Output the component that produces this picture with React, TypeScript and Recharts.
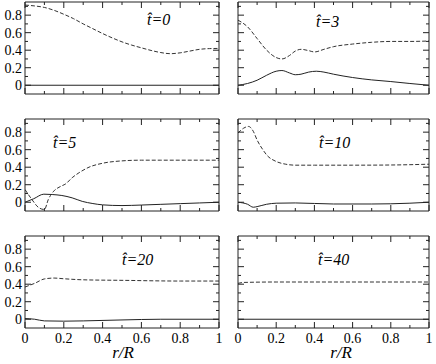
import { LineChart, Line, XAxis, YAxis } from "recharts";

// tick values shared by every panel
const xTicks = [0, 0.1, 0.2, 0.3, 0.4, 0.5, 0.6, 0.7, 0.8, 0.9, 1];
const yTicks = [0, 0.1, 0.2, 0.3, 0.4, 0.5, 0.6, 0.7, 0.8, 0.9];

// t = 0
const t0DashR = [0, 0.05, 0.1, 0.15, 0.2, 0.25, 0.3, 0.35, 0.4, 0.45, 0.5, 0.55, 0.6, 0.65, 0.7, 0.75, 0.8, 0.85, 0.9, 0.95, 1];
const t0Dash = [0.915, 0.905, 0.888, 0.855, 0.81, 0.76, 0.7, 0.645, 0.59, 0.54, 0.495, 0.458, 0.427, 0.397, 0.373, 0.36, 0.37, 0.39, 0.41, 0.418, 0.42];
const t0SolidR = [0, 1];
const t0Solid = [0, 0];

// t = 3
const t3DashR = [0, 0.05, 0.1, 0.15, 0.2, 0.23, 0.27, 0.3, 0.33, 0.37, 0.4, 0.45, 0.5, 0.6, 0.7, 0.8, 0.9, 1];
const t3Dash = [0.743, 0.667, 0.533, 0.4, 0.316, 0.3, 0.34, 0.39, 0.41, 0.395, 0.38, 0.41, 0.44, 0.47, 0.49, 0.5, 0.5, 0.505];
const t3SolidR = [0, 0.05, 0.1, 0.15, 0.2, 0.23, 0.27, 0.3, 0.33, 0.37, 0.41, 0.45, 0.5, 0.6, 0.7, 0.8, 0.9, 1];
const t3Solid = [0, 0.02, 0.057, 0.114, 0.16, 0.168, 0.14, 0.12, 0.126, 0.15, 0.16, 0.15, 0.126, 0.088, 0.061, 0.042, 0.02, 0];

// t = 5
const t5DashR = [0, 0.036, 0.07, 0.1, 0.12, 0.148, 0.183, 0.21, 0.243, 0.278, 0.33, 0.4, 0.5, 0.6, 0.7, 0.8, 0.9, 1];
const t5Dash = [0.145, 0.03, -0.06, -0.083, 0.03, 0.126, 0.18, 0.21, 0.28, 0.336, 0.4, 0.445, 0.472, 0.48, 0.48, 0.48, 0.48, 0.48];
const t5SolidR = [0, 0.045, 0.097, 0.14, 0.19, 0.243, 0.295, 0.35, 0.4, 0.5, 0.6, 0.7, 0.8, 0.9, 1];
const t5Solid = [0, 0.04, 0.092, 0.088, 0.077, 0.05, 0.01, -0.015, -0.03, -0.038, -0.032, -0.024, -0.016, -0.008, 0];

// t = 10
const t10DashR = [0, 0.03, 0.055, 0.08, 0.1, 0.13, 0.15, 0.2, 0.25, 0.3, 0.4, 0.6, 0.8, 1];
const t10Dash = [0.79, 0.846, 0.865, 0.81, 0.71, 0.6, 0.54, 0.465, 0.434, 0.423, 0.423, 0.423, 0.425, 0.434];
const t10SolidR = [0, 0.05, 0.08, 0.1, 0.15, 0.2, 0.3, 0.5, 0.7, 0.9, 1];
const t10Solid = [0, -0.023, -0.057, -0.05, -0.023, -0.011, -0.008, -0.02, -0.02, -0.011, 0];

// t = 20
const t20DashR = [0, 0.05, 0.1, 0.15, 0.2, 0.3, 0.5, 0.8, 1];
const t20Dash = [0.368, 0.41, 0.46, 0.47, 0.462, 0.45, 0.444, 0.436, 0.436];
const t20SolidR = [0, 0.05, 0.1, 0.2, 0.3, 0.5, 0.7, 1];
const t20Solid = [0.008, 0, -0.019, -0.022, -0.019, -0.008, 0, 0];

// t = 40
const t40DashR = [0, 0.03, 0.2, 0.5, 1];
const t40Dash = [0.41, 0.42, 0.425, 0.425, 0.425];
const t40SolidR = [0, 1];
const t40Solid = [0, 0];

const panelLabels = ["0", "3", "5", "10", "20", "40"];

const zip = (r: number[], v: number[]) => r.map((x, i) => ({ r: x, v: v[i] }));

const panels = [
  { dash: zip(t0DashR, t0Dash), solid: zip(t0SolidR, t0Solid) },
  { dash: zip(t3DashR, t3Dash), solid: zip(t3SolidR, t3Solid) },
  { dash: zip(t5DashR, t5Dash), solid: zip(t5SolidR, t5Solid) },
  { dash: zip(t10DashR, t10Dash), solid: zip(t10SolidR, t10Solid) },
  { dash: zip(t20DashR, t20Dash), solid: zip(t20SolidR, t20Solid) },
  { dash: zip(t40DashR, t40Dash), solid: zip(t40SolidR, t40Solid) },
];

const cols = [
  { x0: 25, x1: 219 },
  { x0: 238, x1: 429 },
];
const rows = [
  { y0: 2, y1: 94 },
  { y0: 119, y1: 211 },
  { y0: 236, y1: 328 },
];
// label spots [x, baseline]
const labelPos = [
  [147, 25],
  [316, 27],
  [53, 148],
  [319, 148],
  [122, 265],
  [318, 265],
];

const FONT = '"Liberation Serif", "Times New Roman", Times, "DejaVu Serif", serif';
const INK = "#222";
const serif = { fontFamily: FONT };
const serifItalic = { fontFamily: FONT, fontStyle: "italic" as const };

const isMajor = (v: number) => Math.abs(v * 5 - Math.round(v * 5)) < 1e-6;
const fmt = (v: number) => String(Math.round(v * 10) / 10);

function makeTick(side: "bottom" | "top" | "left" | "right", labels: boolean) {
  return (props: any) => {
    const { x, y, payload } = props;
    const v = payload.value as number;
    const len = isMajor(v) ? 6 : 3;
    let line;
    let text = null;
    if (side === "bottom") {
      line = <line x1={x} y1={y} x2={x} y2={y - len} stroke={INK} />;
      if (labels && isMajor(v))
        text = (
          <text x={x} y={y + 15} textAnchor="middle" style={serif} fontSize={14} fill="#000">
            {fmt(v)}
          </text>
        );
    } else if (side === "top") {
      line = <line x1={x} y1={y} x2={x} y2={y + len} stroke={INK} />;
    } else if (side === "left") {
      line = <line x1={x} y1={y} x2={x + len} y2={y} stroke={INK} />;
      if (labels && isMajor(v))
        text = (
          <text x={x - 3} y={y + 5} textAnchor="end" style={serif} fontSize={14} fill="#000">
            {fmt(v)}
          </text>
        );
    } else {
      line = <line x1={x} y1={y} x2={x - len} y2={y} stroke={INK} />;
    }
    return (
      <g>
        {line}
        {text}
      </g>
    );
  };
}

function Panel({ idx }: { idx: number }) {
  const col = cols[idx % 2];
  const row = rows[Math.floor(idx / 2)];
  const last = Math.floor(idx / 2) === 2;
  const bottomPad = last ? 24 : 4;
  const width = col.x1 - col.x0 + 25 + 4;
  const height = row.y1 - row.y0 + 2 + bottomPad;
  const p = panels[idx];
  // each axis takes 1px, so margins are 1px less than the gap to the frame
  return (
    <div style={{ position: "absolute", left: col.x0 - 25, top: row.y0 - 2 }}>
      <LineChart width={width} height={height} margin={{ top: 1, left: 24, right: 3, bottom: bottomPad - 1 }}>
        <XAxis
          xAxisId="b"
          dataKey="r"
          type="number"
          domain={[0, 1]}
          ticks={xTicks}
          interval={0}
          allowDataOverflow
          height={1}
          tickSize={0}
          tickMargin={0}
          tickLine={false}
          axisLine={{ stroke: INK }}
          tick={makeTick("bottom", last)}
        />
        <XAxis
          xAxisId="t"
          orientation="top"
          dataKey="r"
          type="number"
          domain={[0, 1]}
          ticks={xTicks}
          interval={0}
          allowDataOverflow
          height={1}
          tickSize={0}
          tickMargin={0}
          tickLine={false}
          axisLine={{ stroke: INK }}
          tick={makeTick("top", false)}
        />
        <YAxis
          yAxisId="l"
          type="number"
          domain={[-0.1, 0.95]}
          ticks={yTicks}
          interval={0}
          allowDataOverflow
          width={1}
          tickSize={0}
          tickMargin={0}
          tickLine={false}
          axisLine={{ stroke: INK }}
          tick={makeTick("left", idx % 2 === 0)}
        />
        <YAxis
          yAxisId="rt"
          orientation="right"
          type="number"
          domain={[-0.1, 0.95]}
          ticks={yTicks}
          interval={0}
          allowDataOverflow
          width={1}
          tickSize={0}
          tickMargin={0}
          tickLine={false}
          axisLine={{ stroke: INK }}
          tick={makeTick("right", false)}
        />
        <Line
          xAxisId="b"
          yAxisId="l"
          data={p.solid}
          dataKey="v"
          type="monotone"
          stroke={INK}
          strokeWidth={1}
          dot={false}
          isAnimationActive={false}
        />
        <Line
          xAxisId="b"
          yAxisId="l"
          data={p.dash}
          dataKey="v"
          type="monotone"
          stroke="#333"
          strokeWidth={1}
          strokeDasharray="4 2"
          dot={false}
          isAnimationActive={false}
        />
      </LineChart>
    </div>
  );
}

export default function App() {
  return (
    <div style={{ position: "relative", width: 436, height: 364, background: "#fff", overflow: "hidden" }}>
      <style>{"body{margin:0}"}</style>
      {panels.map((_, i) => (
        <Panel key={i} idx={i} />
      ))}
      <svg width={436} height={364} style={{ position: "absolute", left: 0, top: 0, pointerEvents: "none" }}>
        {panelLabels.map((t, i) => (
          <text key={t} x={labelPos[i][0]} y={labelPos[i][1]} style={serifItalic} fontSize={16} fill="#000">
            {"t\u0302=" + t}
          </text>
        ))}
        <text x={123} y={358} textAnchor="middle" style={serifItalic} fontSize={17} fill="#000">
          r/R
        </text>
        <text x={341} y={358} textAnchor="middle" style={serifItalic} fontSize={17} fill="#000">
          r/R
        </text>
      </svg>
    </div>
  );
}
